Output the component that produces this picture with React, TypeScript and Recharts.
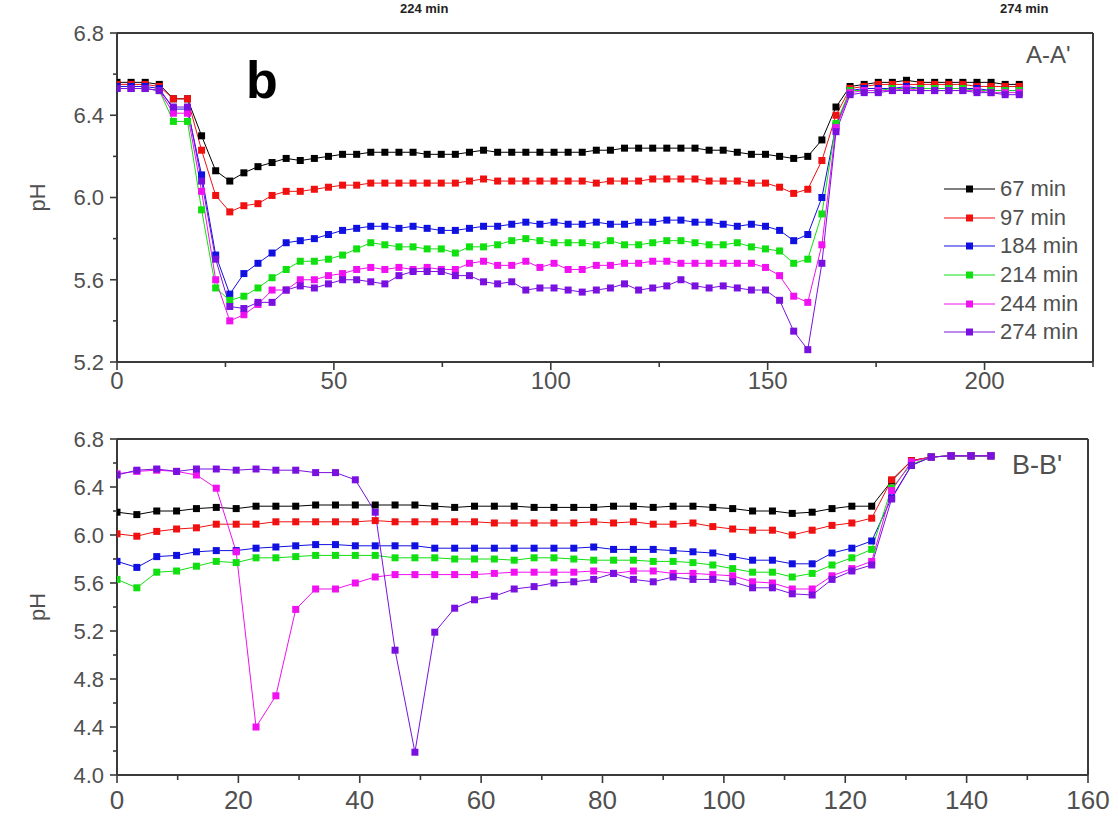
import React from "react";
import { LineChart, Line, XAxis, YAxis, ReferenceLine } from "recharts";

const FONT = '"Liberation Sans", Arial, sans-serif';
const AXIS = "#3a3a3a";
const TEXT = "#505050";

const seriesNames = ["67 min", "97 min", "184 min", "214 min", "244 min", "274 min"];
const seriesKeys = ["m67", "m97", "m184", "m214", "m244", "m274"];
const seriesColors = ["#000000", "#f01010", "#1010e0", "#10e010", "#f010f0", "#7a10e0"];

// panel A-A'
const topX = [
  0, 3.25, 6.5, 9.75, 13, 16.25, 19.5, 22.75, 26, 29.25,
  32.5, 35.75, 39, 42.25, 45.5, 48.75, 52, 55.25, 58.5, 61.75,
  65, 68.25, 71.5, 74.75, 78, 81.25, 84.5, 87.75, 91, 94.25,
  97.5, 100.75, 104, 107.25, 110.5, 113.75, 117, 120.25, 123.5, 126.75,
  130, 133.25, 136.5, 139.75, 143, 146.25, 149.5, 152.75, 156, 159.25,
  162.5, 165.75, 169, 172.25, 175.5, 178.75, 182, 185.25, 188.5, 191.75,
  195, 198.25, 201.5, 204.75, 208,
];
const top67 = [
  6.56, 6.56, 6.56, 6.55, 6.48, 6.48, 6.30, 6.13, 6.08, 6.12,
  6.15, 6.17, 6.19, 6.18, 6.19, 6.20, 6.21, 6.21, 6.22, 6.22,
  6.22, 6.22, 6.21, 6.21, 6.21, 6.22, 6.23, 6.22, 6.22, 6.22,
  6.22, 6.22, 6.22, 6.22, 6.23, 6.23, 6.24, 6.24, 6.24, 6.24,
  6.24, 6.24, 6.23, 6.23, 6.22, 6.21, 6.21, 6.20, 6.19, 6.20,
  6.28, 6.44, 6.54, 6.55, 6.56, 6.56, 6.57, 6.56, 6.56, 6.56,
  6.56, 6.56, 6.56, 6.55, 6.55,
];
const top97 = [
  6.55, 6.55, 6.55, 6.54, 6.48, 6.48, 6.23, 6.01, 5.93, 5.96,
  5.97, 6.01, 6.03, 6.03, 6.04, 6.05, 6.06, 6.06, 6.07, 6.07,
  6.07, 6.07, 6.07, 6.07, 6.07, 6.08, 6.09, 6.08, 6.08, 6.08,
  6.08, 6.08, 6.08, 6.08, 6.07, 6.08, 6.08, 6.08, 6.09, 6.09,
  6.09, 6.09, 6.08, 6.08, 6.08, 6.07, 6.07, 6.05, 6.02, 6.04,
  6.18, 6.40, 6.53, 6.54, 6.55, 6.55, 6.55, 6.55, 6.55, 6.55,
  6.55, 6.54, 6.54, 6.54, 6.54,
];
const top184 = [
  6.54, 6.54, 6.54, 6.53, 6.43, 6.43, 6.11, 5.72, 5.53, 5.63,
  5.68, 5.73, 5.78, 5.79, 5.80, 5.82, 5.84, 5.85, 5.86, 5.86,
  5.85, 5.86, 5.85, 5.84, 5.84, 5.85, 5.86, 5.86, 5.87, 5.88,
  5.87, 5.88, 5.87, 5.87, 5.88, 5.87, 5.87, 5.88, 5.88, 5.89,
  5.89, 5.88, 5.88, 5.87, 5.86, 5.87, 5.86, 5.84, 5.79, 5.82,
  6.00, 6.35, 6.52, 6.53, 6.53, 6.53, 6.54, 6.53, 6.53, 6.53,
  6.53, 6.53, 6.52, 6.52, 6.52,
];
const top214 = [
  6.53, 6.53, 6.53, 6.52, 6.37, 6.37, 5.94, 5.56, 5.50, 5.52,
  5.56, 5.61, 5.65, 5.69, 5.69, 5.70, 5.72, 5.75, 5.78, 5.77,
  5.76, 5.76, 5.75, 5.75, 5.73, 5.76, 5.76, 5.77, 5.79, 5.80,
  5.79, 5.78, 5.78, 5.78, 5.77, 5.79, 5.77, 5.77, 5.78, 5.79,
  5.79, 5.78, 5.77, 5.77, 5.78, 5.76, 5.75, 5.74, 5.68, 5.70,
  5.92, 6.36, 6.52, 6.52, 6.52, 6.53, 6.53, 6.53, 6.53, 6.53,
  6.53, 6.52, 6.52, 6.52, 6.52,
];
const top244 = [
  6.53, 6.53, 6.53, 6.52, 6.41, 6.41, 6.03, 5.60, 5.40, 5.43,
  5.48, 5.55, 5.55, 5.60, 5.60, 5.62, 5.63, 5.65, 5.66, 5.65,
  5.66, 5.65, 5.66, 5.65, 5.65, 5.68, 5.69, 5.67, 5.67, 5.69,
  5.66, 5.68, 5.65, 5.65, 5.67, 5.67, 5.68, 5.68, 5.69, 5.69,
  5.68, 5.68, 5.68, 5.68, 5.68, 5.68, 5.66, 5.62, 5.52, 5.49,
  5.77, 6.34, 6.51, 6.52, 6.52, 6.52, 6.53, 6.52, 6.52, 6.52,
  6.52, 6.52, 6.51, 6.51, 6.51,
];
const top274 = [
  6.53, 6.53, 6.53, 6.52, 6.44, 6.44, 6.08, 5.70, 5.47, 5.46,
  5.49, 5.49, 5.55, 5.57, 5.56, 5.58, 5.60, 5.60, 5.59, 5.58,
  5.62, 5.64, 5.64, 5.64, 5.62, 5.62, 5.59, 5.58, 5.59, 5.55,
  5.56, 5.56, 5.55, 5.54, 5.55, 5.56, 5.58, 5.55, 5.56, 5.57,
  5.60, 5.57, 5.56, 5.57, 5.56, 5.55, 5.55, 5.50, 5.35, 5.26,
  5.68, 6.32, 6.50, 6.51, 6.51, 6.52, 6.52, 6.52, 6.52, 6.52,
  6.52, 6.51, 6.51, 6.50, 6.50,
];

// panel B-B'
const botX = [
  0, 3.27, 6.55, 9.82, 13.09, 16.36, 19.64, 22.91, 26.18, 29.45,
  32.73, 36, 39.27, 42.55, 45.82, 49.09, 52.36, 55.64, 58.91, 62.18,
  65.45, 68.73, 72, 75.27, 78.55, 81.82, 85.09, 88.36, 91.64, 94.91,
  98.18, 101.45, 104.73, 108, 111.27, 114.55, 117.82, 121.09, 124.36, 127.64,
  130.91, 134.18, 137.45, 140.73, 144,
];
const bot67 = [
  6.19, 6.17, 6.20, 6.20, 6.22, 6.23, 6.22, 6.24, 6.24, 6.24,
  6.25, 6.25, 6.25, 6.25, 6.25, 6.25, 6.24, 6.23, 6.24, 6.24,
  6.24, 6.23, 6.23, 6.23, 6.23, 6.24, 6.24, 6.23, 6.24, 6.24,
  6.23, 6.22, 6.20, 6.20, 6.18, 6.19, 6.22, 6.24, 6.24, 6.45,
  6.62, 6.65, 6.66, 6.66, 6.66,
];
const bot97 = [
  6.01, 5.99, 6.03, 6.05, 6.06, 6.09, 6.09, 6.09, 6.11, 6.11,
  6.11, 6.11, 6.11, 6.12, 6.11, 6.11, 6.11, 6.11, 6.11, 6.10,
  6.10, 6.10, 6.10, 6.10, 6.11, 6.10, 6.11, 6.09, 6.09, 6.10,
  6.07, 6.05, 6.04, 6.04, 6.00, 6.04, 6.08, 6.10, 6.14, 6.46,
  6.62, 6.65, 6.66, 6.66, 6.66,
];
const bot184 = [
  5.78, 5.73, 5.82, 5.83, 5.86, 5.87, 5.87, 5.89, 5.90, 5.91,
  5.92, 5.92, 5.91, 5.91, 5.91, 5.91, 5.89, 5.89, 5.89, 5.89,
  5.89, 5.89, 5.89, 5.89, 5.90, 5.88, 5.88, 5.88, 5.87, 5.86,
  5.85, 5.82, 5.79, 5.79, 5.76, 5.76, 5.85, 5.89, 5.95, 6.31,
  6.58, 6.65, 6.66, 6.66, 6.66,
];
const bot214 = [
  5.63, 5.56, 5.69, 5.70, 5.74, 5.78, 5.77, 5.81, 5.81, 5.82,
  5.83, 5.83, 5.83, 5.83, 5.81, 5.81, 5.81, 5.80, 5.80, 5.80,
  5.79, 5.81, 5.81, 5.80, 5.79, 5.79, 5.79, 5.78, 5.78, 5.77,
  5.75, 5.72, 5.69, 5.69, 5.65, 5.68, 5.75, 5.81, 5.88, 6.39,
  6.59, 6.65, 6.66, 6.66, 6.66,
];
const bot244 = [
  6.51, 6.53, 6.54, 6.53, 6.50, 6.39, 5.86, 4.40, 4.66, 5.38,
  5.55, 5.55, 5.60, 5.65, 5.67, 5.67, 5.67, 5.67, 5.67, 5.68,
  5.69, 5.69, 5.69, 5.69, 5.70, 5.68, 5.70, 5.70, 5.68, 5.68,
  5.67, 5.66, 5.61, 5.60, 5.55, 5.55, 5.66, 5.72, 5.78, 6.37,
  6.61, 6.65, 6.66, 6.66, 6.66,
];
const bot274 = [
  6.50, 6.54, 6.55, 6.53, 6.55, 6.55, 6.54, 6.55, 6.54, 6.54,
  6.52, 6.52, 6.46, 6.19, 5.04, 4.19, 5.19, 5.39, 5.46, 5.49,
  5.55, 5.57, 5.60, 5.61, 5.63, 5.68, 5.63, 5.61, 5.65, 5.63,
  5.63, 5.61, 5.56, 5.56, 5.51, 5.50, 5.63, 5.70, 5.75, 6.30,
  6.58, 6.65, 6.66, 6.66, 6.66,
];

// tick values (major ones get labels)
const topXTicks = [0, 25, 50, 75, 100, 125, 150, 175, 200, 225];
const topXMajor = [0, 50, 100, 150, 200];
const topYTicks = [5.2, 5.4, 5.6, 5.8, 6.0, 6.2, 6.4, 6.6, 6.8];
const topYMajor = [5.2, 5.6, 6.0, 6.4, 6.8];
const botXTicks = [0, 10, 20, 30, 40, 50, 60, 70, 80, 90, 100, 110, 120, 130, 140, 150, 160];
const botXMajor = [0, 20, 40, 60, 80, 100, 120, 140, 160];
const botYTicks = [4.0, 4.2, 4.4, 4.6, 4.8, 5.0, 5.2, 5.4, 5.6, 5.8, 6.0, 6.2, 6.4, 6.6, 6.8];
const botYMajor = [4.0, 4.4, 4.8, 5.2, 5.6, 6.0, 6.4, 6.8];

const topSeries = [top67, top97, top184, top214, top244, top274];
const botSeries = [bot67, bot97, bot184, bot214, bot244, bot274];

const buildRows = (xs: number[], series: number[][]) =>
  xs.map((x, i) => {
    const row: Record<string, number> = { x };
    seriesKeys.forEach((k, s) => (row[k] = series[s][i]));
    return row;
  });

const topData = buildRows(topX, topSeries);
const botData = buildRows(botX, botSeries);

const isIn = (v: number, list: number[]) => list.some((m) => Math.abs(m - v) < 1e-6);

// center = distance from axis line to the middle of the label
const xTick = (major: number[], fontSize: number, center: number) => (p: any) => {
  const { x, y, payload } = p;
  const big = isIn(payload.value, major);
  return (
    <g>
      <line x1={x} x2={x} y1={y} y2={y + (big ? 8 : 5)} stroke={AXIS} strokeWidth={1.6} />
      {big && (
        <text x={x} y={y + center} dy="0.36em" textAnchor="middle" fontSize={fontSize} fill={TEXT} fontFamily={FONT}>
          {payload.value}
        </text>
      )}
    </g>
  );
};

const yTick = (major: number[], fontSize: number) => (p: any) => {
  const { x, y, payload } = p;
  const big = isIn(payload.value, major);
  return (
    <g>
      <line x1={x - (big ? 7 : 4)} x2={x} y1={y} y2={y} stroke={AXIS} strokeWidth={1.6} />
      {big && (
        <text x={x - 13} y={y} dy="0.36em" textAnchor="end" fontSize={fontSize} fill={TEXT} fontFamily={FONT}>
          {Number(payload.value).toFixed(1)}
        </text>
      )}
    </g>
  );
};

const phLabel = (p: any) => {
  const vb = p.viewBox || {};
  const cx = vb.x - 20;
  const cy = vb.y + vb.height / 2;
  return (
    <text x={cx} y={cy} transform={`rotate(-90 ${cx} ${cy})`} textAnchor="middle" dy="0.36em" fontSize={22} fill={TEXT} fontFamily={FONT}>
      pH
    </text>
  );
};

const squareDot = (color: string) => (p: any) => {
  const key = `d-${p.index}`;
  if (p.cx == null || p.cy == null) return <g key={key} />;
  return <rect key={key} x={p.cx - 3.5} y={p.cy - 3.5} width={7} height={7} fill={color} />;
};

function LegendBox() {
  return (
    <div style={{ position: "absolute", left: 944, top: 175, fontFamily: FONT, fontSize: 22, color: TEXT }}>
      {seriesNames.map((n, i) => (
        <div key={n} style={{ display: "flex", alignItems: "center", height: 28.6 }}>
          <svg width={51} height={12}>
            <line x1={0} x2={51} y1={6} y2={6} stroke={seriesColors[i]} strokeWidth={1} />
            <rect x={22} y={2.5} width={7} height={7} fill={seriesColors[i]} />
          </svg>
          <span style={{ marginLeft: 5 }}>{n}</span>
        </div>
      ))}
    </div>
  );
}

export default function App() {
  return (
    <div style={{ position: "absolute", left: 0, top: 0, width: 1118, height: 824, overflow: "hidden", background: "#fff", fontFamily: FONT }}>
      {/* panel titles peeking in at the very top */}
      <div style={{ position: "absolute", left: 400, top: 1, fontSize: 13, lineHeight: "15px", fontWeight: "bold", color: "#222" }}>224 min</div>
      <div style={{ position: "absolute", left: 1000, top: 1, fontSize: 13, lineHeight: "15px", fontWeight: "bold", color: "#222" }}>274 min</div>

      <div style={{ position: "absolute", left: 0, top: 0 }}>
        <LineChart width={1118} height={400} data={topData} margin={{ top: 33, right: 25, bottom: 0, left: 57 }}>
          <XAxis dataKey="x" type="number" domain={[0, 225]} ticks={topXTicks} interval={0} tickSize={0} tickMargin={0}
            tickLine={false} tick={xTick(topXMajor, 24, 18)} height={38} stroke={AXIS} strokeWidth={2} allowDataOverflow />
          <YAxis type="number" domain={[5.2, 6.8]} ticks={topYTicks} interval={0} tickSize={0} tickMargin={0}
            tickLine={false} tick={yTick(topYMajor, 22)} width={60} stroke={AXIS} strokeWidth={2} label={phLabel} allowDataOverflow />
          <ReferenceLine y={6.8} stroke={AXIS} strokeWidth={2} />
          <ReferenceLine x={225} stroke={AXIS} strokeWidth={2} />
          {seriesKeys.map((k, i) => (
            <Line key={k} dataKey={k} name={seriesNames[i]} stroke={seriesColors[i]} strokeWidth={1}
              dot={squareDot(seriesColors[i])} activeDot={false} isAnimationActive={false} />
          ))}
        </LineChart>
      </div>

      <div style={{ position: "absolute", left: 0, top: 400 }}>
        <LineChart width={1118} height={424} data={botData} margin={{ top: 39, right: 30, bottom: 0, left: 57 }}>
          <XAxis dataKey="x" type="number" domain={[0, 160]} ticks={botXTicks} interval={0} tickSize={0} tickMargin={0}
            tickLine={false} tick={xTick(botXMajor, 26, 25)} height={49} stroke={AXIS} strokeWidth={2} allowDataOverflow />
          <YAxis type="number" domain={[4.0, 6.8]} ticks={botYTicks} interval={0} tickSize={0} tickMargin={0}
            tickLine={false} tick={yTick(botYMajor, 22)} width={60} stroke={AXIS} strokeWidth={2} label={phLabel} allowDataOverflow />
          <ReferenceLine y={6.8} stroke={AXIS} strokeWidth={2} />
          <ReferenceLine x={160} stroke={AXIS} strokeWidth={2} />
          {seriesKeys.map((k, i) => (
            <Line key={k} dataKey={k} name={seriesNames[i]} stroke={seriesColors[i]} strokeWidth={1}
              dot={squareDot(seriesColors[i])} activeDot={false} isAnimationActive={false} />
          ))}
        </LineChart>
      </div>

      <LegendBox />
      <div style={{ position: "absolute", left: 246, top: 54, fontSize: 52, fontWeight: "bold", color: "#000", lineHeight: 1 }}>b</div>
      <div style={{ position: "absolute", left: 1026, top: 41, fontSize: 24, color: TEXT }}>A-A'</div>
      <div style={{ position: "absolute", left: 1012, top: 450, fontSize: 27, color: TEXT }}>B-B'</div>
    </div>
  );
}
